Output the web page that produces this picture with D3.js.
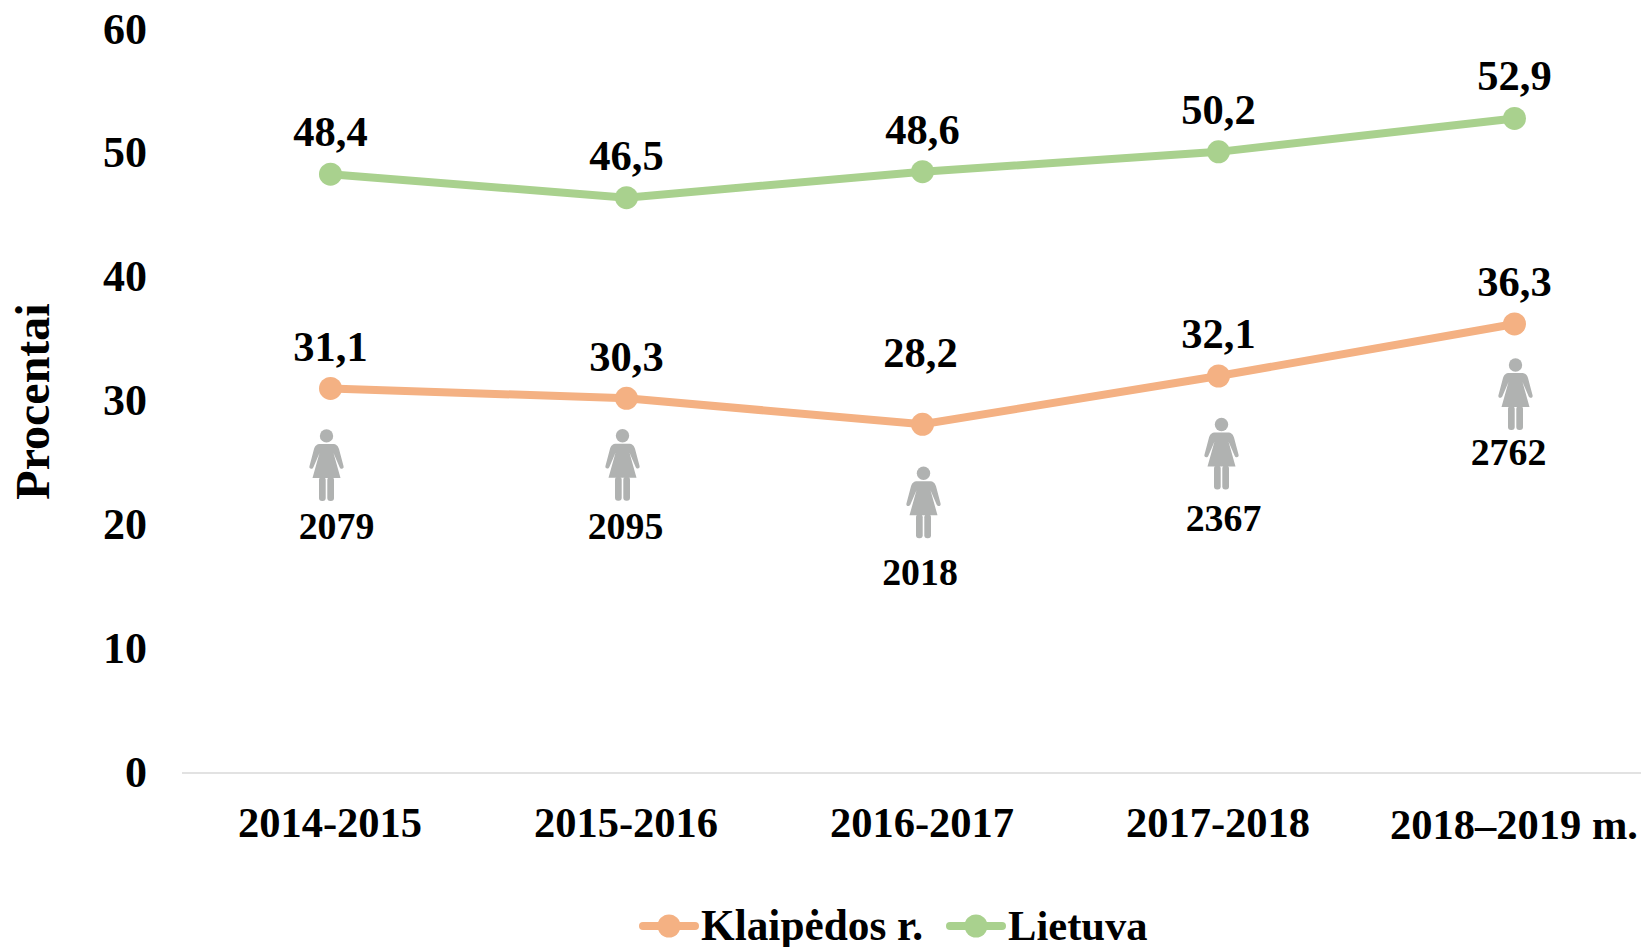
<!DOCTYPE html>
<html><head><meta charset="utf-8">
<script src="https://cdn.jsdelivr.net/npm/d3@7"></script>
<style>html,body{margin:0;background:#fff}svg{display:block}text{font-family:"Liberation Serif",serif;font-weight:bold;fill:#000}</style>
</head><body><div id="c"></div>
<script>
const categories = ["2014-2015","2015-2016","2016-2017","2017-2018","2018–2019 m."];
const klaipeda = [31.1,30.3,28.2,32.1,36.3];
const lietuva = [48.4,46.5,48.6,50.2,52.9];
const pupils = [2079,2095,2018,2367,2762];
const yTicks = [0,10,20,30,40,50,60];

const W=1641,H=947;
const svg=d3.select("#c").append("svg").attr("width",W).attr("height",H);
const x=d3.scalePoint().domain(categories).range([330.5,1514.5]);
const y=d3.scaleLinear().domain([0,60]).range([773.5,30.5]);
const orange="#F4B183", green="#A9D18E";

const yAxis=svg.append("g").attr("transform","translate(147,-1.5)").call(d3.axisLeft(y).tickValues(yTicks).tickSize(0).tickPadding(0));
yAxis.select(".domain").remove();
yAxis.selectAll("text").attr("font-size",44).attr("dy","0.32em").style("font-family",'"Liberation Serif",serif').style("font-weight","bold");
const xAxis=svg.append("g").attr("transform","translate(-1,773)").call(d3.axisBottom(x).tickSize(0).tickPadding(0));
xAxis.selectAll(".domain").remove();
svg.append("line").attr("x1",182).attr("x2",W).attr("y1",773).attr("y2",773).attr("stroke","#d9d9d9").attr("stroke-width",1.5);
xAxis.selectAll("text").attr("font-size",42.5).attr("dy",0).attr("y",64).style("font-family",'"Liberation Serif",serif').style("font-weight","bold");
xAxis.selectAll("text").filter(d=>d===categories[4]).attr("y",66);

svg.append("text").attr("transform","translate(49,401.5) rotate(-90)").attr("text-anchor","middle").attr("font-size",48).text("Procentai");

const line=d3.line().x((d,i)=>x(categories[i])).y(d=>y(d));
function series(vals,col,lift,shift){
  svg.append("path").attr("d",line(vals)).attr("fill","none").attr("stroke",col).attr("stroke-width",8).attr("stroke-linecap","round");
  svg.selectAll(null).data(vals).enter().append("circle").attr("cx",(d,i)=>x(categories[i])).attr("cy",d=>y(d)).attr("r",11.5).attr("fill",col);
  svg.selectAll(null).data(vals).enter().append("text").attr("x",(d,i)=>x(categories[i])+shift[i]).attr("y",(d,i)=>y(d)-lift[i]).attr("text-anchor","middle").attr("font-size",42.5)
    .text(d=>String(d).replace(".",","));
}
series(klaipeda,orange,[27.5,27.5,57,28,28],[0,0,-2,0,0]);
series(lietuva,green,[28,27.5,28,28,28],[0,0,0,0,0]);

function person(g){
  const c="#b0b2b1";
  g.append("circle").attr("cx",0).attr("cy",7).attr("r",6.7).attr("fill",c);
  g.append("path").attr("fill",c).attr("d","M-6,15 L6,15 C10,15 11.5,17 12.5,20 L17,37 C18,40 14,41 13,38 L7,24 L14,49 L-14,49 L-7,24 L-13,38 C-14,41 -18,40 -17,37 L-12.5,20 C-11.5,17 -10,15 -6,15 Z");
  g.append("rect").attr("x",-7.5).attr("y",48).attr("width",6.7).attr("height",24).attr("rx",3).attr("fill",c);
  g.append("rect").attr("x",0.8).attr("y",48).attr("width",6.7).attr("height",24).attr("rx",3).attr("fill",c);
}
const iconDx=[-4,-4,1,3,1];
const iconDy=[40.5,30.5,42,41.5,34];
const labelDx=[6,-1,-2.5,5,-6];
const labelDy=[151,141,161,155.5,141];
pupils.forEach((p,i)=>{
  const px=x(categories[i]), py=y(klaipeda[i]);
  person(svg.append("g").attr("transform",`translate(${px+iconDx[i]},${py+iconDy[i]})`));
  svg.append("text").attr("x",px+labelDx[i]).attr("y",py+labelDy[i]).attr("text-anchor","middle").attr("font-size",37.8).text(p);
});

const legendNames=["Klaipėdos r.","Lietuva"];
const legendColors=[orange,green];
const legendX=[669,976];
const legendFont=[43.3,42.6];
legendNames.forEach((t,i)=>{
  const c=legendColors[i],lx=legendX[i],cy=926;
  svg.append("line").attr("x1",lx-26).attr("x2",lx+26).attr("y1",cy).attr("y2",cy).attr("stroke",c).attr("stroke-width",8).attr("stroke-linecap","round");
  svg.append("circle").attr("cx",lx).attr("cy",cy).attr("r",11.5).attr("fill",c);
  svg.append("text").attr("x",lx+32).attr("y",939.5).attr("font-size",legendFont[i]).text(t);
});
</script></body></html>
